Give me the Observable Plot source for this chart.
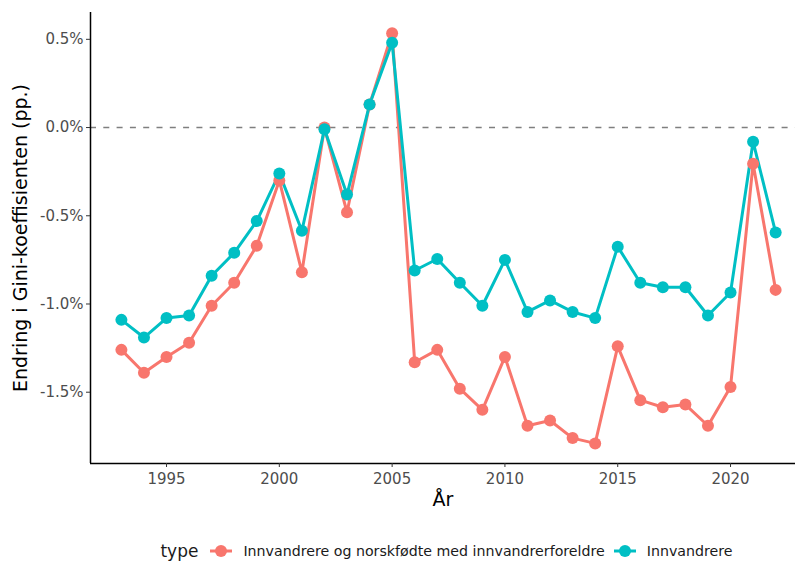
<!DOCTYPE html>
<html><head><meta charset="utf-8">
<script src="https://cdn.jsdelivr.net/npm/d3@7"></script>
<script src="https://cdn.jsdelivr.net/npm/@observablehq/plot@0.6"></script>
<style>
body{margin:0;background:#fff;font-family:"DejaVu Sans",sans-serif;}
#legend{height:41px;display:flex;align-items:center;justify-content:center;font-size:14.2px;color:#1a1a1a;padding-left:98px}
#legend .t{font-size:17px;margin-right:12px}
#legend .it{display:flex;align-items:center}
#legend .it + .it{margin-left:9px}
#legend svg{margin-right:11px}
</style></head>
<body>
<div id="chart"></div>
<div id="legend"></div>
<script>
const years = d3.range(1993, 2023);
const seriesNames = ["Innvandrere og norskfødte med innvandrerforeldre", "Innvandrere"];
const colors = ["#F8766D", "#00BFC4"];
const valuesA = [-1.26,-1.39,-1.30,-1.22,-1.01,-0.88,-0.67,-0.30,-0.82,0.00,-0.48,0.13,0.535,
  -1.33,-1.26,-1.48,-1.60,-1.30,-1.69,-1.66,-1.76,-1.79,-1.24,-1.545,-1.585,-1.57,-1.69,-1.47,-0.205,-0.92];
const valuesB = [-1.09,-1.19,-1.08,-1.065,-0.84,-0.71,-0.53,-0.26,-0.585,-0.01,-0.38,0.13,0.48,
  -0.81,-0.745,-0.88,-1.01,-0.75,-1.045,-0.98,-1.045,-1.08,-0.675,-0.88,-0.905,-0.905,-1.065,-0.935,-0.08,-0.595];
const xTicks = [1995, 2000, 2005, 2010, 2015, 2020];
const yTicks = [-1.5, -1.0, -0.5, 0.0, 0.5];
const xLabel = "År";
const yLabel = "Endring i Gini-koeffisienten (pp.)";
const legendTitle = "type";

const data = [
  ...years.map((y, i) => ({year: y, value: valuesA[i], type: seriesNames[0]})),
  ...years.map((y, i) => ({year: y, value: valuesB[i], type: seriesNames[1]}))
];
const xDom = [1991.63, 2022.88];
const yDom = [-1.904, 0.652];
const font = "'DejaVu Sans',sans-serif";

const plot = Plot.plot({
  width: 795, height: 530,
  marginLeft: 90, marginRight: 0, marginTop: 12, marginBottom: 67,
  style: {fontFamily: font, fontSize: "15px", background: "#fff"},
  x: {domain: xDom},
  y: {domain: yDom},
  color: {domain: seriesNames, range: colors},
  marks: [
    Plot.ruleY([0], {stroke: "#7f7f7f", strokeWidth: 1.6, strokeDasharray: "6,7.3"}),
    Plot.line(data, {x: "year", y: "value", stroke: "type", z: "type", strokeWidth: 3}),
    Plot.dot(data, {x: "year", y: "value", fill: "type", r: 6}),
    Plot.ruleX([xDom[0]], {stroke: "#000", strokeWidth: 1.5}),
    Plot.ruleY([yDom[0]], {stroke: "#000", strokeWidth: 1.5}),
    Plot.axisX(xTicks, {tickSize: 4, tickPadding: 6, tickFormat: d => String(d), fontSize: 15, color: "#4d4d4d", stroke: "#333", label: null}),
    Plot.axisY(yTicks, {tickSize: 4, tickPadding: 3, tickFormat: d => d.toFixed(1) + "%", fontSize: 15, color: "#4d4d4d", stroke: "#333", label: null}),
    Plot.text([xLabel], {frameAnchor: "bottom", dy: 42, fontSize: 19, fill: "#000"}),
    Plot.text([yLabel], {frameAnchor: "left", textAnchor: "middle", rotate: -90, dx: -70, fontSize: 19, fill: "#000"})
  ]
});
document.getElementById("chart").appendChild(plot);

const leg = document.getElementById("legend");
const t = document.createElement("span"); t.className = "t"; t.textContent = legendTitle; leg.appendChild(t);
seriesNames.forEach((n, i) => {
  const it = document.createElement("span"); it.className = "it";
  it.innerHTML = `<svg width="22" height="16"><line x1="0" x2="22" y1="8" y2="8" stroke="${colors[i]}" stroke-width="3"/><circle cx="11" cy="8" r="6" fill="${colors[i]}"/></svg>`;
  const s = document.createElement("span"); s.textContent = n; it.appendChild(s);
  leg.appendChild(it);
});
</script>
</body></html>
